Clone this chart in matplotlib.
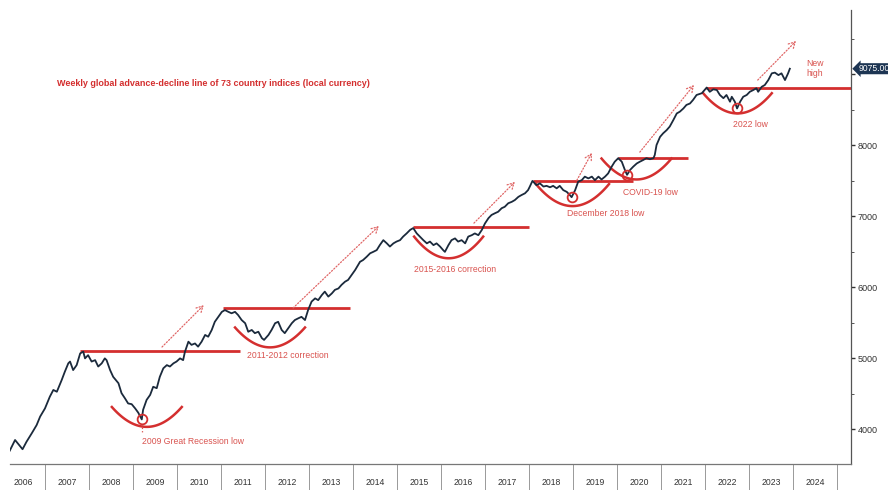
import numpy as np
import matplotlib.pyplot as plt
import matplotlib.transforms as mtransforms

# weekly global advance-decline line (fractional year, level)
dates = [2006.20, 2006.32, 2006.43, 2006.49, 2006.58, 2006.70, 2006.81, 2006.89,
         2007.00, 2007.11, 2007.19, 2007.27, 2007.38, 2007.45, 2007.53, 2007.57,
         2007.64, 2007.72, 2007.80, 2007.87, 2007.91, 2007.98, 2008.06, 2008.14,
         2008.21, 2008.29, 2008.36, 2008.40, 2008.48, 2008.55, 2008.67, 2008.74,
         2008.82, 2008.89, 2008.97, 2009.05, 2009.12, 2009.20, 2009.23, 2009.31,
         2009.39, 2009.46, 2009.54, 2009.61, 2009.69, 2009.77, 2009.84, 2009.92,
         2009.99, 2010.07, 2010.14, 2010.18, 2010.26, 2010.33, 2010.41, 2010.48,
         2010.56, 2010.64, 2010.71, 2010.79, 2010.86, 2010.94, 2011.02, 2011.09,
         2011.17, 2011.24, 2011.32, 2011.39, 2011.47, 2011.55, 2011.62, 2011.70,
         2011.77, 2011.85, 2011.93, 2011.98, 2012.08, 2012.15, 2012.23, 2012.30,
         2012.38, 2012.45, 2012.53, 2012.61, 2012.68, 2012.76, 2012.83, 2012.91,
         2012.98, 2013.06, 2013.14, 2013.21, 2013.29, 2013.36, 2013.44, 2013.52,
         2013.59, 2013.67, 2013.74, 2013.82, 2013.89, 2013.97, 2014.05, 2014.16,
         2014.23, 2014.31, 2014.39, 2014.46, 2014.54, 2014.61, 2014.69, 2014.77,
         2014.84, 2014.92, 2014.99, 2015.07, 2015.14, 2015.22, 2015.30, 2015.37,
         2015.45, 2015.52, 2015.60, 2015.68, 2015.75, 2015.83, 2015.90, 2015.98,
         2016.05, 2016.09, 2016.17, 2016.24, 2016.32, 2016.39, 2016.47, 2016.55,
         2016.62, 2016.70, 2016.77, 2016.85, 2016.93, 2017.00, 2017.08, 2017.15,
         2017.23, 2017.30, 2017.38, 2017.45, 2017.53, 2017.61, 2017.68, 2017.76,
         2017.83, 2017.91, 2017.98, 2018.02, 2018.08, 2018.17, 2018.25, 2018.33,
         2018.40, 2018.48, 2018.55, 2018.63, 2018.70, 2018.78, 2018.86, 2018.93,
         2018.97, 2019.05, 2019.12, 2019.20, 2019.27, 2019.35, 2019.43, 2019.50,
         2019.58, 2019.65, 2019.73, 2019.80, 2019.88, 2019.95, 2020.03, 2020.11,
         2020.18, 2020.23, 2020.30, 2020.37, 2020.45, 2020.52, 2020.60, 2020.67,
         2020.75, 2020.83, 2020.86, 2020.90, 2020.98, 2021.05, 2021.13, 2021.20,
         2021.28, 2021.36, 2021.43, 2021.51, 2021.58, 2021.66, 2021.73, 2021.81,
         2021.93, 2022.04, 2022.11, 2022.19, 2022.27, 2022.34, 2022.42, 2022.49,
         2022.57, 2022.61, 2022.68, 2022.73, 2022.80, 2022.87, 2022.95, 2023.02,
         2023.10, 2023.17, 2023.21, 2023.29, 2023.36, 2023.44, 2023.52, 2023.59,
         2023.67, 2023.74, 2023.82, 2023.89, 2023.93]
adline = [3695, 3845, 3760, 3715, 3820, 3940, 4055, 4175,
          4290, 4455, 4550, 4525, 4690, 4805, 4925, 4950,
          4830, 4900, 5065, 5090, 4995, 5040, 4950, 4970,
          4880, 4925, 4995, 4970, 4830, 4735, 4645, 4505,
          4430, 4360, 4350, 4290, 4230, 4135, 4270, 4410,
          4480, 4595, 4575, 4735, 4855, 4900, 4880, 4925,
          4950, 4995, 4970, 5085, 5230, 5185, 5205, 5160,
          5230, 5325, 5300, 5395, 5510, 5580, 5650, 5675,
          5650, 5630, 5650, 5605, 5535, 5490, 5370, 5395,
          5350, 5370, 5280, 5255, 5325, 5395, 5490, 5510,
          5395, 5350, 5420, 5490, 5535, 5560, 5580, 5535,
          5675, 5795, 5840, 5815, 5885, 5935, 5865, 5910,
          5960, 5980, 6030, 6075, 6100, 6170, 6240, 6355,
          6380, 6425, 6475, 6495, 6520, 6590, 6660, 6615,
          6570, 6615, 6640, 6660, 6710, 6755, 6805, 6830,
          6755, 6710, 6660, 6615, 6640, 6590, 6615, 6570,
          6520, 6495, 6590, 6660, 6685, 6640, 6660, 6615,
          6710, 6730, 6755, 6730, 6805, 6895, 6970, 7015,
          7040, 7060, 7110, 7130, 7180, 7200, 7225, 7270,
          7295, 7320, 7365, 7415, 7495, 7435, 7460, 7415,
          7425, 7405, 7425, 7390, 7425, 7365, 7340, 7295,
          7265, 7365, 7485, 7505, 7555, 7530, 7555, 7505,
          7555, 7515, 7555, 7600, 7695, 7765, 7815, 7765,
          7650, 7580, 7650, 7695, 7740, 7765, 7790, 7815,
          7800, 7815, 7860, 8000, 8115, 8165, 8210, 8260,
          8350, 8445, 8470, 8515, 8565, 8585, 8635, 8705,
          8730, 8810, 8750, 8785, 8775, 8705, 8660, 8705,
          8610, 8680, 8610, 8515, 8610, 8680, 8705, 8750,
          8775, 8800, 8750, 8820, 8845, 8915, 9010, 9020,
          8985, 9010, 8915, 9010, 9075]
last_value = 9075.00

years = list(range(2006, 2025))

# resistance lines (from, to, level)
res_from = [2007.80, 2011.05, 2015.36, 2018.09, 2020.02, 2022.02]
res_to = [2011.43, 2013.93, 2018.00, 2020.36, 2021.61, 2025.40]
res_level = [5100, 5700, 6850, 7500, 7820, 8810]

# cup shaped bases (left, right, bottom, rim)
cup_left = [2008.52, 2011.32, 2015.39, 2018.16, 2019.65, 2021.96]
cup_right = [2010.11, 2012.91, 2016.96, 2019.82, 2021.24, 2023.52]
cup_bottom = [4030, 5150, 6405, 7140, 7515, 8445]
cup_rim = [4310, 5430, 6710, 7450, 7810, 8730]

# circled lows
low_dates = [2009.20, 2018.97, 2020.23, 2022.73]
low_values = [4135, 7265, 7580, 8515]

# dotted breakout arrows
arrow_x0 = [2009.66, 2012.64, 2016.75, 2019.09, 2020.52, 2023.20]
arrow_y0 = [5155, 5705, 6900, 7505, 7900, 8915]
arrow_x1 = [2010.61, 2014.59, 2017.68, 2019.43, 2021.75, 2024.07]
arrow_y1 = [5745, 6860, 7480, 7890, 8845, 9465]

note_text = ["2009 Great Recession low", "2011-2012 correction", "2015-2016 correction",
             "December 2018 low", "COVID-19 low", "2022 low", "New\nhigh"]
note_x = [2009.20, 2011.59, 2015.39, 2018.86, 2020.14, 2022.64, 2024.30]
note_y = [3830, 5035, 6240, 7030, 7330, 8290, 9080]

title = "Weekly global advance-decline line of 73 country indices (local currency)"

navy = "#1b2a3c"
red = "#d42f2f"
soft_red = "#d9534f"

plt.rcParams['font.family'] = ['Liberation Sans', 'DejaVu Sans']

fig = plt.figure(figsize=(8.88, 4.9), dpi=100)
ax = fig.add_axes([10 / 888, 26 / 490, 841 / 888, 454 / 490])

for x0, x1, lev in zip(res_from, res_to, res_level):
    ax.plot([x0, x1], [lev, lev], color=red, lw=2, solid_capstyle='butt', zorder=2)

for l, r, b, top in zip(cup_left, cup_right, cup_bottom, cup_rim):
    t = np.linspace(-1, 1, 60)
    ax.plot((l + r) / 2 + t * (r - l) / 2, b + (top - b) * t ** 2, color=red, lw=1.8, zorder=2)

ax.plot(dates, adline, color=navy, lw=1.3, zorder=3)

ax.plot(low_dates, low_values, 'o', ms=7, mfc='none', mec=red, mew=1.3, zorder=4)
ax.plot([low_dates[0], low_dates[0]], [low_values[0] - 70, 3960], color=soft_red, lw=0.9, ls=':')

for x0, y0, x1, y1 in zip(arrow_x0, arrow_y0, arrow_x1, arrow_y1):
    ax.annotate("", xy=(x1, y1), xytext=(x0, y0),
                arrowprops=dict(arrowstyle="->,head_length=0.45,head_width=0.25",
                                color="#e06666", lw=0.9, ls=(0, (1, 1.5)),
                                shrinkA=0, shrinkB=0))

for txt, x, y in zip(note_text, note_x, note_y):
    ax.text(x, y, txt, color=soft_red, fontsize=6.2, ha='left', va='center', linespacing=1.1)

ax.text(2007.27, 8860, title, color=red, fontsize=6.5, fontweight='bold', ha='left', va='center')

ax.set_xlim(2006.205, 2025.32)
ax.set_ylim(3507, 9902)

for side in ['left', 'top']:
    ax.spines[side].set_visible(False)
ax.spines['right'].set_color('#555555')
ax.spines['bottom'].set_color('#777777')
ax.spines['right'].set_linewidth(0.9)
ax.spines['bottom'].set_linewidth(0.9)

# year cells under the axis
ax.set_xticks([y + 1 for y in years])
ax.set_xticklabels([])
ax.set_xticks([y + 0.5 for y in years], minor=True)
ax.set_xticklabels([str(y) for y in years], minor=True)
ax.tick_params(axis='x', which='major', length=19, width=0.7, color='#999999', direction='out')
ax.tick_params(axis='x', which='minor', length=0, pad=10, labelsize=6.2, labelcolor='#333333')

# 9000 sits behind the last-value tag
ax.yaxis.tick_right()
ax.set_yticks([4000, 5000, 6000, 7000, 8000, 9000])
ax.set_yticklabels(['4000', '5000', '6000', '7000', '8000', ''])
ax.set_yticks([4500, 5500, 6500, 7500, 8500, 9500], minor=True)
ax.tick_params(axis='y', which='major', length=3, width=1, color='#333333', pad=2,
               labelsize=6.5, labelcolor='#333333')
ax.tick_params(axis='y', which='minor', length=2, width=0.7, color='#555555')

trans = mtransforms.blended_transform_factory(ax.transAxes, ax.transData)
ax.text(1.0085, last_value, "%.2f" % last_value, transform=trans, color='white', fontsize=6.2,
        ha='left', va='center', zorder=10,
        bbox=dict(boxstyle='larrow,pad=0.12', fc='#1d3553', ec='none'))

fig.savefig("out.png", dpi=100)
